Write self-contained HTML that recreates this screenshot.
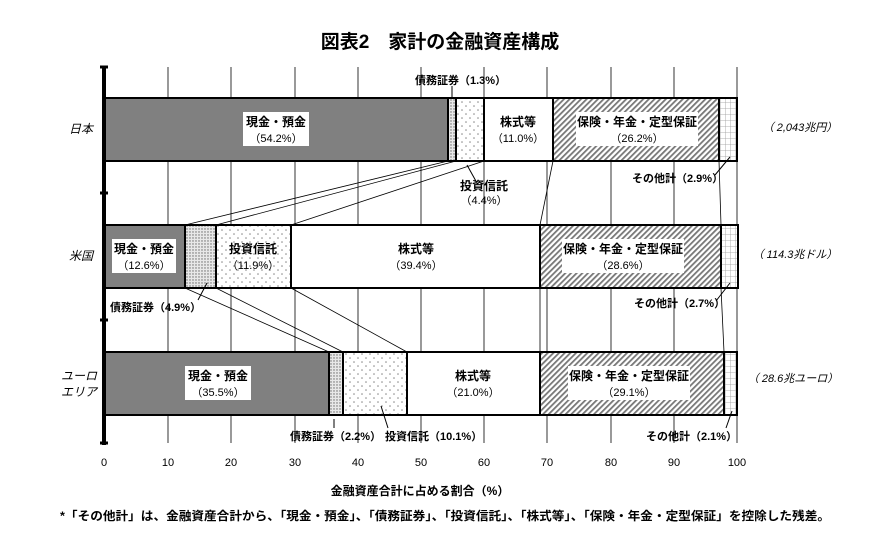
<!DOCTYPE html>
<html><head><meta charset="utf-8"><style>
body{margin:0;background:#fff;}
svg{display:block;font-family:"Liberation Sans","Noto Sans CJK JP",sans-serif;}
</style></head><body>
<svg width="881" height="534" viewBox="0 0 881 534" xmlns="http://www.w3.org/2000/svg">
<defs>
<pattern id="dots" width="8" height="8" patternUnits="userSpaceOnUse"><rect width="8" height="8" fill="#fff"/><circle cx="2" cy="2" r="0.8" fill="#888"/><circle cx="6" cy="6" r="0.8" fill="#888"/></pattern>
<pattern id="dense" width="3" height="3" patternUnits="userSpaceOnUse"><rect width="3" height="3" fill="#e8e8e8"/><circle cx="1" cy="1" r="0.7" fill="#666"/></pattern>
<pattern id="hatch" width="4" height="4" patternUnits="userSpaceOnUse" patternTransform="rotate(45)"><rect width="4" height="4" fill="#fff"/><rect width="1.8" height="4" fill="#777"/></pattern>
<pattern id="grid" width="5" height="6" patternUnits="userSpaceOnUse"><rect width="5" height="6" fill="#fff"/><path d="M0 0H5M0 0V6" stroke="#999" stroke-width="0.8"/></pattern>
</defs>
<text x="440" y="48" font-size="19" font-weight="bold" text-anchor="middle">図表2　家計の金融資産構成</text>
<g stroke="#000" stroke-width="0.8">
<line x1="168" y1="67" x2="168" y2="443"/><line x1="231" y1="67" x2="231" y2="443"/><line x1="295" y1="67" x2="295" y2="443"/><line x1="358" y1="67" x2="358" y2="443"/><line x1="421" y1="67" x2="421" y2="443"/><line x1="484" y1="67" x2="484" y2="443"/><line x1="547" y1="67" x2="547" y2="443"/><line x1="611" y1="67" x2="611" y2="443"/><line x1="674" y1="67" x2="674" y2="443"/><line x1="737" y1="67" x2="737" y2="443"/>
</g>
<g stroke="#000" stroke-width="0.8" fill="none">
<line x1="448" y1="161" x2="185" y2="225"/><line x1="456" y1="161" x2="216" y2="225"/><line x1="484" y1="161" x2="291" y2="225"/><line x1="553" y1="161" x2="540" y2="225"/><line x1="719" y1="161" x2="721" y2="225"/>
<line x1="185" y1="288" x2="329" y2="352"/><line x1="216" y1="288" x2="343" y2="352"/><line x1="291" y1="288" x2="407" y2="352"/><line x1="540" y1="288" x2="540" y2="352"/><line x1="721" y1="288" x2="724" y2="352"/>
</g>
<g stroke="#000" stroke-width="2">
<rect x="105" y="98" width="343" height="63" fill="#808080"/>
<rect x="448" y="98" width="8" height="63" fill="url(#dense)"/>
<rect x="456" y="98" width="28" height="63" fill="url(#dots)"/>
<rect x="484" y="98" width="69" height="63" fill="#fff"/>
<rect x="553" y="98" width="166" height="63" fill="url(#hatch)"/>
<rect x="719" y="98" width="18" height="63" fill="url(#grid)"/>
<rect x="105" y="225" width="80" height="63" fill="#808080"/>
<rect x="185" y="225" width="31" height="63" fill="url(#dense)"/>
<rect x="216" y="225" width="75" height="63" fill="url(#dots)"/>
<rect x="291" y="225" width="249" height="63" fill="#fff"/>
<rect x="540" y="225" width="181" height="63" fill="url(#hatch)"/>
<rect x="721" y="225" width="17" height="63" fill="url(#grid)"/>
<rect x="105" y="352" width="224" height="63" fill="#808080"/>
<rect x="329" y="352" width="14" height="63" fill="url(#dense)"/>
<rect x="343" y="352" width="64" height="63" fill="url(#dots)"/>
<rect x="407" y="352" width="133" height="63" fill="#fff"/>
<rect x="540" y="352" width="184" height="63" fill="url(#hatch)"/>
<rect x="724" y="352" width="13" height="63" fill="url(#grid)"/>
</g>
<line x1="104" y1="66" x2="104" y2="445" stroke="#000" stroke-width="4"/>
<g stroke="#000" stroke-width="3"><line x1="100" y1="67" x2="108" y2="67"/><line x1="100" y1="193" x2="108" y2="193"/><line x1="100" y1="320" x2="108" y2="320"/><line x1="100" y1="443" x2="108" y2="443"/></g>
<g fill="#fff"><rect x="243" y="112" width="66" height="34"/><rect x="576" y="112" width="122" height="34"/><rect x="112" y="239" width="64" height="34"/><rect x="562" y="239" width="122" height="34"/><rect x="185" y="366" width="66" height="34"/><rect x="568" y="366" width="122" height="34"/></g>
<g font-size="12" text-anchor="middle" font-weight="bold">
<text x="276" y="126">現金・預金</text><text x="276" y="142" font-size="11" font-weight="normal">（54.2%）</text>
<text x="518" y="126">株式等</text><text x="518" y="142" font-size="11" font-weight="normal">（11.0%）</text>
<text x="637" y="126">保険・年金・定型保証</text><text x="637" y="142" font-size="11" font-weight="normal">（26.2%）</text>
<text x="144" y="253">現金・預金</text><text x="144" y="269" font-size="11" font-weight="normal">（12.6%）</text>
<text x="253" y="253">投資信託</text><text x="253" y="269" font-size="11" font-weight="normal">（11.9%）</text>
<text x="416" y="253">株式等</text><text x="416" y="269" font-size="11" font-weight="normal">（39.4%）</text>
<text x="623" y="253">保険・年金・定型保証</text><text x="623" y="269" font-size="11" font-weight="normal">（28.6%）</text>
<text x="218" y="380">現金・預金</text><text x="218" y="396" font-size="11" font-weight="normal">（35.5%）</text>
<text x="473" y="380">株式等</text><text x="473" y="396" font-size="11" font-weight="normal">（21.0%）</text>
<text x="629" y="380">保険・年金・定型保証</text><text x="629" y="396" font-size="11" font-weight="normal">（29.1%）</text>
</g>
<g stroke="#000" stroke-width="1"><line x1="452" y1="86" x2="452" y2="98"/><line x1="467" y1="165" x2="477" y2="183"/><line x1="715" y1="175" x2="730" y2="157"/><line x1="198" y1="300" x2="207" y2="283"/><line x1="716" y1="301" x2="730" y2="283"/><line x1="334" y1="419" x2="334" y2="428"/><line x1="381" y1="406" x2="388" y2="428"/><line x1="726" y1="428" x2="732" y2="411"/></g>
<g font-size="11" font-weight="bold">
<text x="415" y="84">債務証券（1.3%）</text>
<text x="484" y="190" text-anchor="middle" font-size="12">投資信託</text><text x="484" y="204" text-anchor="middle" font-weight="normal">（4.4%）</text>
<text x="632" y="182">その他計（2.9%）</text>
<text x="110" y="311">債務証券（4.9%）</text>
<text x="634" y="307">その他計（2.7%）</text>
<text x="290" y="440">債務証券（2.2%）</text>
<text x="385" y="440">投資信託（10.1%）</text>
<text x="646" y="440">その他計（2.1%）</text>
</g>
<g font-size="12" font-style="italic" text-anchor="middle"><text x="81" y="133">日本</text><text x="81" y="260">米国</text><text x="79" y="380">ユーロ</text><text x="79" y="396">エリア</text></g>
<g font-size="11" font-style="italic" text-anchor="middle"><text x="800" y="131">（ 2,043兆円）</text><text x="795" y="258">（ 114.3兆ドル）</text><text x="793" y="382">（ 28.6兆ユーロ）</text></g>
<g font-size="11" text-anchor="middle"><text x="104" y="466">0</text><text x="168" y="466">10</text><text x="231" y="466">20</text><text x="295" y="466">30</text><text x="358" y="466">40</text><text x="421" y="466">50</text><text x="484" y="466">60</text><text x="547" y="466">70</text><text x="611" y="466">80</text><text x="674" y="466">90</text><text x="737" y="466">100</text></g>
<text x="420" y="495" font-size="12" font-weight="bold" text-anchor="middle">金融資産合計に占める割合（%）</text>
<text x="60" y="520" font-size="12" font-weight="bold" textLength="770" lengthAdjust="spacingAndGlyphs">*「その他計」は、金融資産合計から、「現金・預金」、「債務証券」、「投資信託」、「株式等」、「保険・年金・定型保証」を控除した残差。</text>
</svg>
</body></html>
